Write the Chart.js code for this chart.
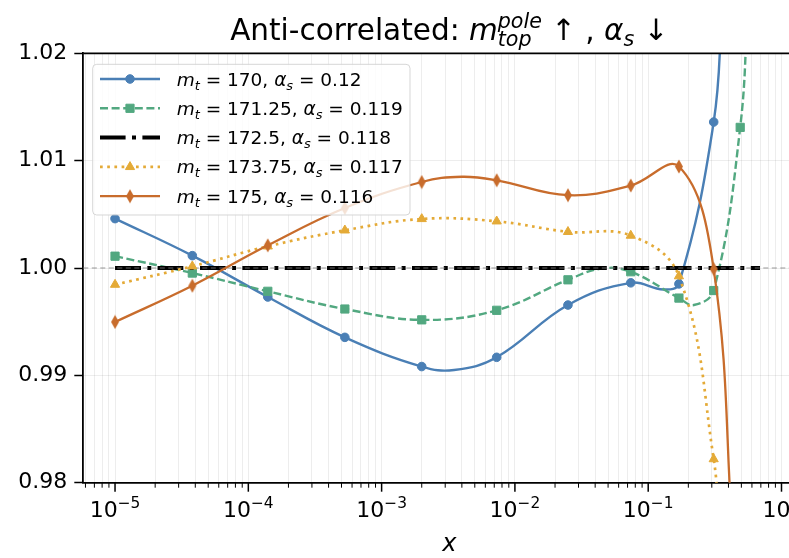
<!DOCTYPE html>
<html>
<head>
<meta charset="utf-8">
<script src="https://cdn.jsdelivr.net/npm/chart.js@4.4.0/dist/chart.umd.min.js"></script>
<style>
html, body { margin: 0; padding: 0; background: #fff; overflow: hidden; }
#wrap { width: 789px; height: 558px; overflow: hidden; }
canvas { display: block; }
</style>
</head>
<body>
<div id="wrap"><canvas id="myChart" width="822" height="558" style="width:822px;height:558px"></canvas></div>
<script>
// x positions of the markers
const xMarks = [1e-5, 3.8e-5, 1.4e-4, 5.3e-4, 2.0e-3, 7.3e-3, 0.025, 0.074, 0.17, 0.31, 0.49]

const mtVals = [170, 171.25, 172.5, 173.75, 175]
const asVals = [0.12, 0.119, 0.118, 0.117, 0.116]

// ratio at each marker (null = no marker there)
const blueVals   = [1.0046, 1.00115, 0.9973, 0.99354, 0.99082, 0.99168, 0.99655, 0.99862, 0.99852, 1.0136, null]
const greenVals  = [1.0011, 0.99953, 0.99783, 0.99618, 0.99517, 0.99606, 0.9989, 0.99965, 0.9972, 0.9979, 1.0131]
const yellowVals = [0.99845, 1.00016, 1.00202, 1.00351, 1.00457, 1.00435, 1.00337, 1.00302, 0.99924, 0.9822, null]
const brownVals  = [0.99497, 0.99835, 1.00211, 1.00559, 1.00801, 1.00817, 1.00678, 1.00768, 1.00945, 0.9999, null]

// reference line (central values)
const blackX    = [1e-5, 0.69]
const blackVals = [1.0, 1.0]

// extra points (no marker)
const blueCurve   = [[3.5e-3, 0.9905], [0.13, 0.9980], [0.36, 1.025]]
const greenCurve  = [[0.045, 0.99995], [0.22, 0.99655], [0.56, 1.025]]
const yellowCurve = [[0.34, 0.975]]
const brownCurve  = [[4.0e-3, 1.0085], [0.43, 0.975]]

// axis
const xMajorExps = [-5, -4, -3, -2, -1, 0]
const yTicks = [0.98, 0.99, 1.00, 1.01, 1.02]
const xMin = 5.78e-6, xMax = 1.79

const FONT = '"DejaVu Sans"'
Chart.defaults.font.family = FONT

function buildSeries(vals, curve) {
    const pts = []
    xMarks.forEach((x, i) => { if (vals[i] !== null) pts.push({x: x, y: vals[i], mark: true}) })
    curve.forEach(p => pts.push({x: p[0], y: p[1], mark: false}))
    return pts.sort((a, b) => a.x - b.x)
}

function thinDiamond(color) {
    const c = document.createElement('canvas')
    c.width = 10; c.height = 15
    const g = c.getContext('2d')
    g.fillStyle = color
    g.beginPath()
    g.moveTo(5, 0.5); g.lineTo(9, 7.5); g.lineTo(5, 14.5); g.lineTo(1, 7.5)
    g.closePath(); g.fill()
    return c
}

const cBlue = '#4a7fb5', cGreen = '#52a880', cBlack = '#000000', cYellow = '#e4aa37', cBrown = '#c86c2c'
const diamond = thinDiamond(cBrown)

const series = [
    {data: buildSeries(blueVals, blueCurve), color: cBlue, width: 2.4, dash: [], style: 'circle', r: 4.3, order: 5},
    {data: buildSeries(greenVals, greenCurve), color: cGreen, width: 2.4, dash: [8, 3.6], style: 'rect', r: 5.8, order: 4},
    {data: blackX.map((x, i) => ({x: x, y: blackVals[i], mark: false})), color: cBlack, width: 4, dash: [25.6, 6.4, 4, 6.4], style: false, r: 0, order: 3},
    {data: buildSeries(yellowVals, yellowCurve), color: cYellow, width: 2.7, dash: [2.7, 4.5], style: 'triangle', r: 5.3, order: 2},
    {data: buildSeries(brownVals, brownCurve), color: cBrown, width: 2.3, dash: [], style: diamond, r: 5, order: 1},
]

const datasets = series.map((s, i) => ({
    label: 'm_t = ' + mtVals[i] + ', a_s = ' + asVals[i],
    data: s.data,
    borderColor: s.color,
    backgroundColor: s.color,
    borderWidth: s.width,
    borderDash: s.dash,
    borderCapStyle: 'butt',
    tension: 0.4,
    fill: false,
    order: s.order,
    clip: 0,
    pointStyle: s.style || 'circle',
    pointRadius: ctx => (ctx.raw && ctx.raw.mark) ? s.r : 0,
    pointBorderWidth: 1,
    pointBorderColor: s.color,
    pointBackgroundColor: s.color,
}))

// rich text (mathtext-like) helper
function layoutRich(ctx, parts, size) {
    let w = 0
    const items = []
    parts.forEach(p => {
        if (p.sup !== undefined || p.sub !== undefined) {
            const s = size * 0.7
            const f = (p.it ? 'italic ' : '') + s + 'px ' + FONT
            ctx.font = f
            let mw = 0
            if (p.sup !== undefined) { items.push({t: p.sup, x: w, dy: -size * 0.42, font: f}); mw = Math.max(mw, ctx.measureText(p.sup).width) }
            if (p.sub !== undefined) { items.push({t: p.sub, x: w, dy: size * 0.22, font: f}); mw = Math.max(mw, ctx.measureText(p.sub).width) }
            w += mw
        } else {
            const f = (p.it ? 'italic ' : '') + size + 'px ' + FONT
            ctx.font = f
            items.push({t: p.t, x: w, dy: 0, font: f})
            w += ctx.measureText(p.t).width
        }
    })
    return {items, w}
}
function drawRich(ctx, parts, x, y, size, align) {
    const L = layoutRich(ctx, parts, size)
    const x0 = align === 'center' ? x - L.w / 2 : x
    ctx.textAlign = 'left'
    ctx.textBaseline = 'alphabetic'
    L.items.forEach(it => { ctx.font = it.font; ctx.fillText(it.t, x0 + it.x, y + it.dy) })
}

const decor = {
    id: 'decor',
    afterDatasetDraw(chart, args) {
        // grey dashed line at 1 drawn over the black line
        if (args.index !== 2) return
        const a = chart.chartArea, ctx = chart.ctx
        const y = chart.scales.y.getPixelForValue(1.0)
        ctx.save()
        ctx.strokeStyle = 'rgba(128,128,128,0.8)'
        ctx.lineWidth = 1.2
        ctx.setLineDash([5, 3.5])
        ctx.beginPath(); ctx.moveTo(a.left, y); ctx.lineTo(a.right, y); ctx.stroke()
        ctx.restore()
    },
    afterDraw(chart) {
        const a = chart.chartArea, ctx = chart.ctx
        const xs = chart.scales.x
        ctx.save()
        ctx.fillStyle = '#000'
        ctx.strokeStyle = '#000'
        // top / right spines
        ctx.lineWidth = 1.8
        ctx.beginPath(); ctx.moveTo(a.left, a.top); ctx.lineTo(a.right, a.top); ctx.lineTo(a.right, a.bottom); ctx.stroke()
        // x ticks
        xs.ticks.forEach(t => {
            const px = xs.getPixelForValue(t.value)
            const major = Math.abs(Math.log10(t.value) - Math.round(Math.log10(t.value))) < 1e-6
            ctx.lineWidth = major ? 1.5 : 1
            ctx.beginPath(); ctx.moveTo(px, a.bottom); ctx.lineTo(px, a.bottom + (major ? 9 : 5)); ctx.stroke()
        })
        // x tick labels
        xMajorExps.forEach(e => {
            const px = xs.getPixelForValue(Math.pow(10, e))
            const ex = e < 0 ? '\u2212' + Math.abs(e) : String(e)
            drawRich(ctx, [{t: '10'}, {sup: ex}], px, 517, 22, 'center')
        })
        // axis label
        drawRich(ctx, [{t: 'x', it: true}], (a.left + a.right) / 2, 551, 24, 'center')
        // title
        drawRich(ctx, [{t: 'Anti-correlated: '}, {t: 'm', it: true}, {sup: 'pole', sub: 'top', it: true},
            {t: ' \u2191 , '}, {t: '\u03b1', it: true}, {sub: 's', it: true}, {t: ' \u2193'}],
            (a.left + a.right) / 2, 40, 29.5, 'center')

        // legend
        const bx = 92.7, by = 64.3, bw = 317.3, bh = 150.7
        ctx.fillStyle = 'rgba(255,255,255,0.8)'
        ctx.strokeStyle = 'rgba(204,204,204,0.8)'
        ctx.lineWidth = 1
        ctx.beginPath(); ctx.roundRect(bx, by, bw, bh, 4); ctx.fill(); ctx.stroke()
        series.forEach((s, i) => {
            const cy = 79 + i * 29.3
            ctx.strokeStyle = s.color
            ctx.lineWidth = s.width
            ctx.setLineDash(s.dash)
            ctx.lineCap = 'butt'
            ctx.beginPath(); ctx.moveTo(100, cy); ctx.lineTo(160, cy); ctx.stroke()
            ctx.setLineDash([])
            if (s.style) {
                ctx.fillStyle = s.color
                ctx.lineWidth = 1
                Chart.helpers.drawPoint(ctx, {pointStyle: s.style, radius: s.r, rotation: 0, borderWidth: 1}, 130, cy)
            }
            ctx.fillStyle = '#000'
            drawRich(ctx, [{t: 'm', it: true}, {sub: 't', it: true}, {t: ' = ' + mtVals[i] + ', '},
                {t: '\u03b1', it: true}, {sub: 's', it: true}, {t: ' = ' + asVals[i]}], 176.7, cy + 6.5, 18.5, 'left')
        })
        ctx.restore()
    }
}

new Chart('myChart', {
    type: 'line',
    data: {datasets: datasets},
    options: {
        responsive: false,
        animation: false,
        devicePixelRatio: 1,
        layout: {padding: {top: 53.3, right: 6.7, left: 0, bottom: 0}},
        plugins: {legend: {display: false}, tooltip: {enabled: false}},
        scales: {
            x: {
                type: 'logarithmic',
                bounds: 'data',
                min: xMin, max: xMax,
                afterBuildTicks: scale => {
                    const t = []
                    xMajorExps.forEach(e => {
                        for (let k = 1; k <= 9; k++) {
                            const v = k * Math.pow(10, e)
                            if (v >= xMin && v <= xMax) t.push({value: v})
                        }
                    })
                    const lo = 1e-6
                    for (let k = 6; k <= 9; k++) if (k * lo >= xMin) t.unshift({value: k * lo})
                    scale.ticks = t.sort((p, q) => p.value - q.value)
                },
                afterFit: scale => { scale.height = 75.3 },
                ticks: {display: false},
                grid: {color: 'rgba(0,0,0,0.07)', lineWidth: 1, drawTicks: false},
                border: {color: '#000', width: 1.8}
            },
            y: {
                min: 0.98, max: 1.02,
                afterBuildTicks: scale => { scale.ticks = yTicks.map(v => ({value: v})) },
                afterFit: scale => { scale.width = 83.3 },
                ticks: {color: '#000', font: {size: 22, family: FONT}, padding: 7, callback: v => v.toFixed(2)},
                grid: {color: 'rgba(0,0,0,0.07)', lineWidth: 1, tickColor: '#000', tickLength: 9, tickWidth: 1.5},
                border: {color: '#000', width: 1.8}
            }
        }
    },
    plugins: [decor]
})
</script>
</body>
</html>
